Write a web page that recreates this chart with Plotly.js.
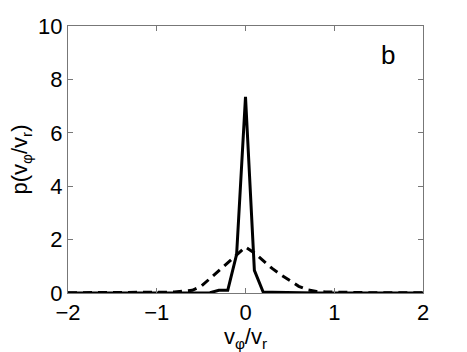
<!DOCTYPE html>
<html>
<head>
<script src="https://cdn.plot.ly/plotly-3.0.1.min.js"></script>
<style>body{margin:0;background:#fff}</style>
</head>
<body>
<div id="plot" style="width:467px;height:352px"></div>
<script>
// ratio bins, step 0.1 from -2 to 2
var ratio = [];
for (var i = -20; i <= 20; i++) ratio.push(i / 10);

// solid curve (narrow peak)
var pSolid = [0,0,0,0,0,0,0,0,0,0, 0,0,0,0,0,0,0.01,0.1,0.1,1.45,
              7.35,
              0.85,0.03,0.03,0.02,0.01,0.01,0,0,0,0, 0,0,0,0,0,0,0,0,0,0];
// dashed curve (broad peak)
var pDashed = [0.01,0.01,0.01,0.01,0.01,0.01,0.01,0.01,0.01,0.02, 0.02,0.03,0.04,0.06,0.1,0.25,0.55,0.85,1.15,1.45,
               1.72,
               1.5,1.2,0.92,0.68,0.45,0.25,0.12,0.06,0.04,0.03, 0.02,0.02,0.01,0.01,0.01,0.01,0.01,0.01,0.01,0.01];

var font = {family: 'Liberation Sans, Arial, sans-serif', size: 22, color: '#000'};

var data = [
  {x: ratio, y: pSolid, type: 'scatter', mode: 'lines',
   line: {color: '#000', width: 3}},
  {x: ratio, y: pDashed, type: 'scatter', mode: 'lines',
   line: {color: '#000', width: 3, dash: '9px,6px'}}
];

var layout = {
  width: 467, height: 352,
  margin: {l: 68, r: 44, t: 26, b: 59},
  showlegend: false,
  paper_bgcolor: '#fff', plot_bgcolor: '#fff',
  font: font,
  xaxis: {
    range: [-2, 2], tickvals: [-2, -1, 0, 1, 2],
    ticks: 'inside', ticklen: 5, tickcolor: '#777',
    showline: true, linecolor: '#777', linewidth: 1, mirror: 'ticks',
    showgrid: false, zeroline: false,
    title: {text: 'v<sub>φ</sub>/v<sub>r</sub>', font: font, standoff: 0}
  },
  yaxis: {
    range: [0, 10], tickvals: [0, 2, 4, 6, 8, 10],
    ticks: 'inside', ticklen: 5, tickcolor: '#777',
    showline: true, linecolor: '#777', linewidth: 1, mirror: 'ticks',
    showgrid: false, zeroline: false,
    title: {text: 'p(v<sub>φ</sub>/v<sub>r</sub>)', font: font, standoff: 4}
  },
  annotations: [{
    text: 'b', xref: 'paper', yref: 'paper', x: 0.9, y: 0.89,
    xanchor: 'center', yanchor: 'middle',
    showarrow: false, font: {family: font.family, size: 26, color: '#000'}
  }]
};

Plotly.newPlot('plot', data, layout, {staticPlot: true});
</script>
</body>
</html>
